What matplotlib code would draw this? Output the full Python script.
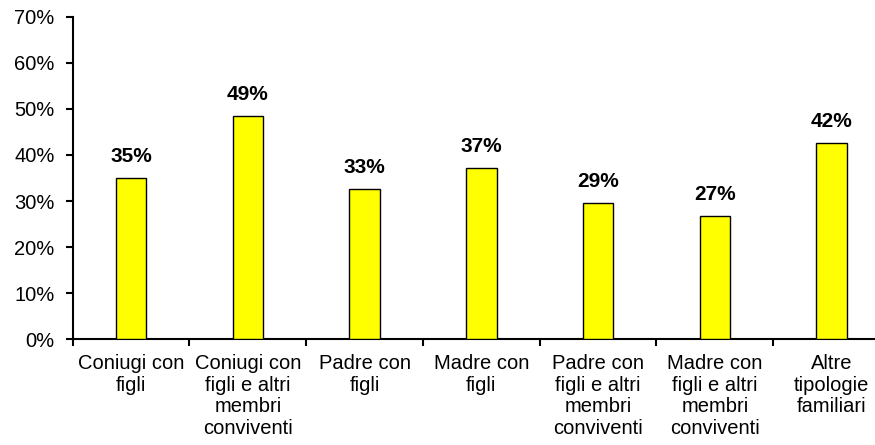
import matplotlib
matplotlib.use("Agg")
import matplotlib.pyplot as plt
import numpy as np

categories = ["Coniugi con\nfigli", "Coniugi con\nfigli e altri\nmembri\nconviventi",
              "Padre con\nfigli", "Madre con\nfigli",
              "Padre con\nfigli e altri\nmembri\nconviventi",
              "Madre con\nfigli e altri\nmembri\nconviventi",
              "Altre\ntipologie\nfamiliari"]
values = [35.0, 48.4, 32.6, 37.1, 29.5, 26.7, 42.6]
value_labels = ["35%", "49%", "33%", "37%", "29%", "27%", "42%"]
yticks = [0, 10, 20, 30, 40, 50, 60, 70]

plt.rcParams['font.family'] = ['Liberation Sans', 'DejaVu Sans']

fig = plt.figure(figsize=(8.75, 4.45), dpi=100)
ax = fig.add_axes([0.0831, 0.238, 0.934, 0.724])

x = np.arange(len(categories))
ax.bar(x, values, width=0.26, color="#FFFF00", edgecolor="black", linewidth=1.0, zorder=3)

for xi, v, lab in zip(x, values, value_labels):
    ax.annotate(lab, (xi, v), xytext=(0, 9), textcoords="offset points",
                ha="center", va="bottom", fontsize=15, fontweight="bold")

ax.set_xlim(-0.5, len(categories) - 0.5)
ax.set_ylim(0, 70)
ax.set_yticks(yticks)
ax.set_yticklabels([f"{t}%" for t in yticks], fontsize=14.5)

ax.set_xticks(x)
ax.set_xticklabels(categories, fontsize=14.5, linespacing=1.17)
ax.tick_params(axis="x", length=0, pad=11)
ax.set_xticks(np.arange(len(categories) + 1) - 0.5, minor=True)
ax.tick_params(axis="x", which="minor", length=5, width=1.5, direction="out")
ax.tick_params(axis="y", length=5, width=1.5, direction="out", pad=8)

for s in ["top", "right"]:
    ax.spines[s].set_visible(False)
for s in ["left", "bottom"]:
    ax.spines[s].set_linewidth(1.5)

fig.savefig("out.png", dpi=100)
